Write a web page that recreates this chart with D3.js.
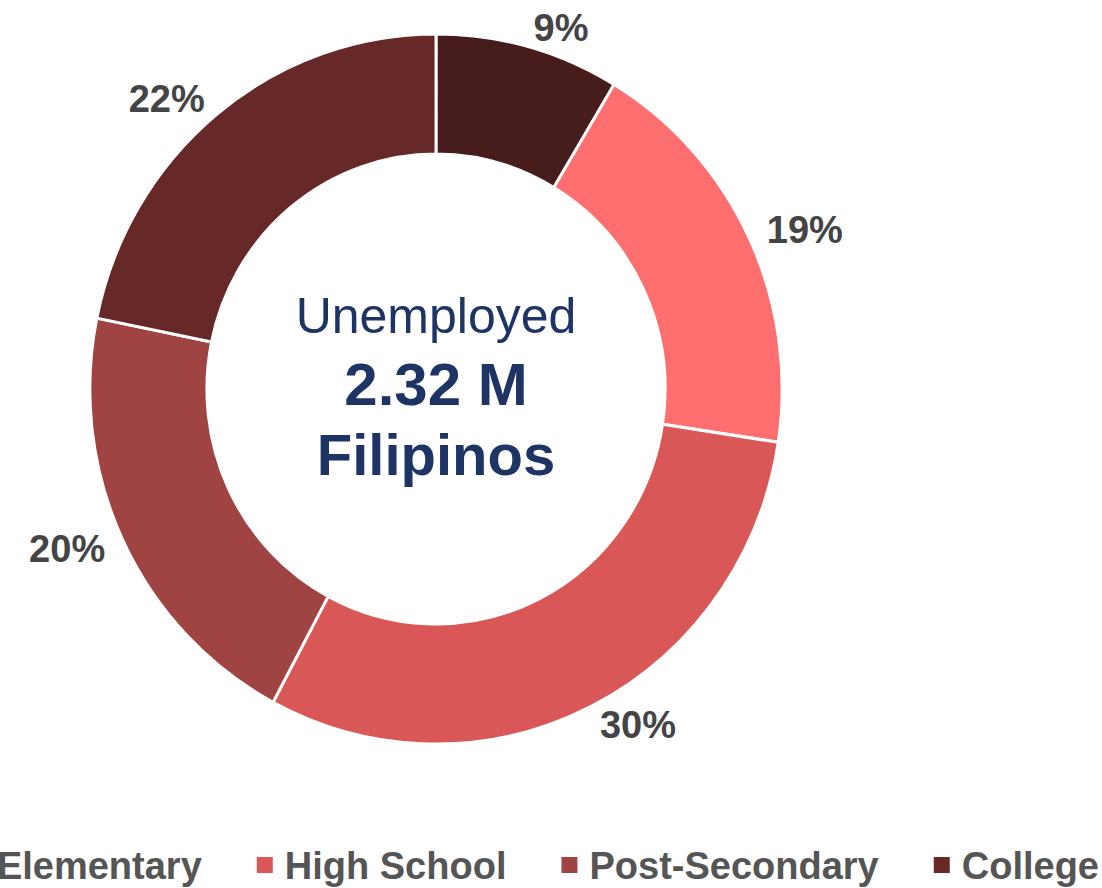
<!DOCTYPE html>
<meta charset="utf-8">
<style>
  body { margin: 0; background: #fff; overflow: hidden; }
  text { font-family: "Liberation Sans", Arial, Helvetica, sans-serif; }
  .slice { stroke: #fff; stroke-width: 3; }
  .pct { font-weight: bold; fill: #444; font-size: 38px; }
  .legend text { font-weight: bold; fill: #555; font-size: 38px; }
  .center { fill: #1e3464; text-anchor: middle; }
</style>
<svg width="1102" height="888"></svg>
<script src="https://d3js.org/d3.v7.min.js"></script>
<script>
  // shares of unemployed by education (percent), clockwise from 12 o'clock
  var categories = ["Other", "Elementary", "High School", "Post-Secondary", "College"];
  var shares = [8.6, 18.8, 30.4, 20.4, 21.8];
  var colors = ["#461c1c", "#ff6f6f", "#d95757", "#a04343", "#672828"];
  // the legend is cut at the left edge, only these show
  var legendKeys = ["Elementary", "High School", "Post-Secondary", "College"];
  var centerLines = ["Unemployed", "2.32 M", "Filipinos"];

  var svg = d3.select("svg"),
    width = +svg.attr("width"),
    height = +svg.attr("height"),
    cx = 436,
    cy = 389,
    outer = 355,
    inner = 235,
    squeeze = 0.975; // the source picture is a little narrower than tall

  var data = categories.map(function(c, i) {
    return { name: c, value: shares[i] };
  });
  var total = d3.sum(shares);

  var color = d3.scaleOrdinal().domain(categories).range(colors);
  var pie = d3.pie().sort(null).value(function(d) { return d.value; });
  var arc = d3.arc().innerRadius(inner).outerRadius(outer);
  var labelArc = d3.arc().innerRadius(375).outerRadius(375);

  var g = svg.append("g")
    .attr("transform", "translate(" + cx + "," + cy + ")");

  var arcs = pie(data);

  g.append("g")
    .attr("transform", "scale(" + squeeze + ",1)")
    .selectAll(".slice")
    .data(arcs)
    .enter().append("path")
    .attr("class", "slice")
    .attr("d", arc)
    .attr("fill", function(d) { return color(d.data.name); });

  // labels hang off a point just outside the ring: right half starts there, left half ends there
  function midAngle(d) { return (d.startAngle + d.endAngle) / 2; }

  g.selectAll(".pct")
    .data(arcs)
    .enter().append("text")
    .attr("class", "pct")
    .attr("transform", function(d) {
      var c = labelArc.centroid(d);
      return "translate(" + (c[0] * squeeze) + "," + c[1] + ")";
    })
    .attr("text-anchor", function(d) {
      return midAngle(d) < Math.PI ? "start" : "end";
    })
    .attr("dy", "0.36em")
    .text(function(d) { return Math.round(d.data.value / total * 100) + "%"; });

  // center text
  g.append("text").attr("class", "center")
    .attr("y", -56)
    .style("font-size", "50px")
    .text(centerLines[0]);
  g.append("text").attr("class", "center")
    .attr("y", 16)
    .style("font-size", "60px")
    .style("font-weight", "bold")
    .text(centerLines[1]);
  g.append("text").attr("class", "center")
    .attr("y", 86)
    .style("font-size", "58px")
    .style("font-weight", "bold")
    .text(centerLines[2]);

  // legend, laid out left to right then pushed so it ends at the right edge
  var legend = svg.append("g").attr("class", "legend");
  var box = 16, boxGap = 12, itemGap = 55, x = 0;
  legendKeys.forEach(function(k) {
    var item = legend.append("g").attr("transform", "translate(" + x + ",0)");
    item.append("rect")
      .attr("y", -22)
      .attr("width", box)
      .attr("height", box)
      .attr("fill", color(k));
    var t = item.append("text")
      .attr("x", box + boxGap)
      .text(k);
    x += box + boxGap + t.node().getComputedTextLength() + itemGap;
  });
  var legendWidth = x - itemGap;
  legend.attr("transform", "translate(" + (width - 3 - legendWidth) + ",879)");
</script>
